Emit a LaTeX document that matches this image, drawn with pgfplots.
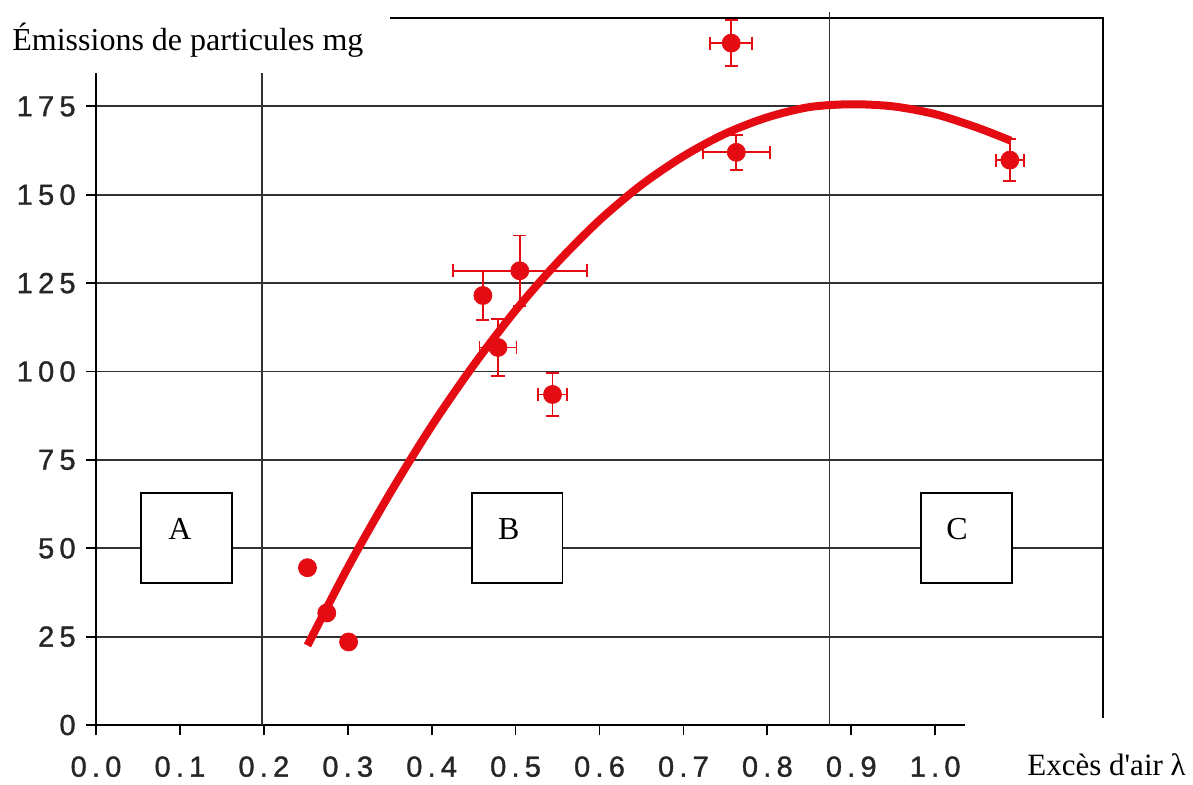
\documentclass[border=0pt]{standalone}
\usepackage{fontspec}
\usepackage{pgfplots}
\pgfplotsset{compat=1.18}
\setmainfont{Liberation Serif}
\newfontfamily\tickfamily[LetterSpace=18,FakeBold=1.2]{Liberation Sans}
\newcommand\tickfont{\tickfamily\fontsize{14.5}{14.5}\selectfont}
\definecolor{ptred}{RGB}{228,12,18}
\definecolor{gridc}{RGB}{50,50,50}
\begin{document}
\begin{tikzpicture}
\path[use as bounding box] (-48pt,-29.5pt) rectangle (548.5pt,362.5pt);
\begin{axis}[
  at={(0pt,0pt)}, anchor=south west,
  scale only axis, width=503.5pt, height=353.5pt,
  xmin=0, xmax=1.2, ymin=0, ymax=200,
  axis line style={black, line width=0.9pt},
  xtick={0,0.1,...,1.01}, xticklabels={0.0,0.1,0.2,0.3,0.4,0.5,0.6,0.7,0.8,0.9,1.0},
  ytick={0,25,...,175}, yticklabels={0,25,50,75,100,125,150,175},
  tick align=outside, major tick length=5pt,
  tick style={black, line width=0.9pt},
  xtick pos=bottom, ytick pos=left,
  ymajorgrids, grid style={gridc, line width=0.9pt},
  xticklabel style={font=\tickfont, text=black!85, inner sep=0pt, anchor=north, yshift=-10.5pt},
  yticklabel style={font=\tickfont, text=black!85, inner sep=0pt, anchor=east, xshift=-5pt},
  clip=false,
]
% region separators
\draw[gridc, line width=0.9pt] (axis cs:0.198,0) -- (axis cs:0.198,200);
\draw[gridc, line width=0.9pt] (axis cs:0.874,0) -- ([yshift=3pt]axis cs:0.874,200);
% region boxes
\draw[black, line width=0.9pt, fill=white] (axis cs:0.054,40.2) rectangle (axis cs:0.162,65.7);
\draw[black, line width=0.9pt, fill=white] (axis cs:0.448,40.2) rectangle (axis cs:0.556,65.7);
\draw[black, line width=0.9pt, fill=white] (axis cs:0.983,40.2) rectangle (axis cs:1.092,65.7);
\node[font=\fontsize{16}{16}\selectfont] at (axis cs:0.1,55.5) {A};
\node[font=\fontsize{16}{16}\selectfont] at (axis cs:0.492,55.5) {B};
\node[font=\fontsize{16}{16}\selectfont] at (axis cs:1.026,55.5) {C};
% fitted curve
\addplot[ptred, line width=4pt, smooth, no markers] coordinates {
(0.252,22.5) (0.30,44.5) (0.35,65.4) (0.40,84.6) (0.45,101.8) (0.50,117.3)
(0.55,130.9) (0.60,142.8) (0.65,152.8) (0.70,160.9) (0.75,167.3) (0.80,171.9)
(0.85,174.8) (0.90,175.6) (0.95,175.0) (1.00,172.8) (1.05,169.0) (1.09,165.3)
};
% points without error bars
\addplot[only marks, mark=*, mark size=4.5pt, ptred, mark options={draw=ptred, fill=ptred}] coordinates {
(0.252,44.5) (0.275,31.7) (0.301,23.5)
};
% points with error bars
\addplot[only marks, mark=*, mark size=4.5pt, ptred, mark options={draw=ptred, fill=ptred},
  error bars/.cd, x dir=both, y dir=both, x explicit, y explicit,
  error bar style={ptred, line width=0.9pt}, error mark options={ptred, line width=0.9pt, mark size=3.3pt, rotate=90}]
  table[x=x, y=y, x error=ex, y error=ey] {
x     y     ex    ey
0.461 121.5 0.0   7
0.505 128.5 0.08  10
0.479 106.8 0.022 8
0.544 93.5  0.017 6
0.757 192.9 0.025 6.5
0.763 162.0 0.04  5
1.089 159.8 0.017 6
};
\end{axis}
% white covers
\fill[white] (-48pt,326pt) rectangle (147pt,362.5pt);
\fill[white] (434.5pt,3.5pt) rectangle (548.5pt,-29.5pt);
\node[anchor=base west, inner sep=0pt, font=\fontsize{16}{16}\selectfont] at (-42pt,337.5pt) {Émissions de particules mg};
\node[anchor=base west, inner sep=0pt, font=\fontsize{15.5}{15.5}\selectfont] at (465.5pt,-25pt) {Excès d\textquotesingle air λ};
\end{tikzpicture}
\end{document}
